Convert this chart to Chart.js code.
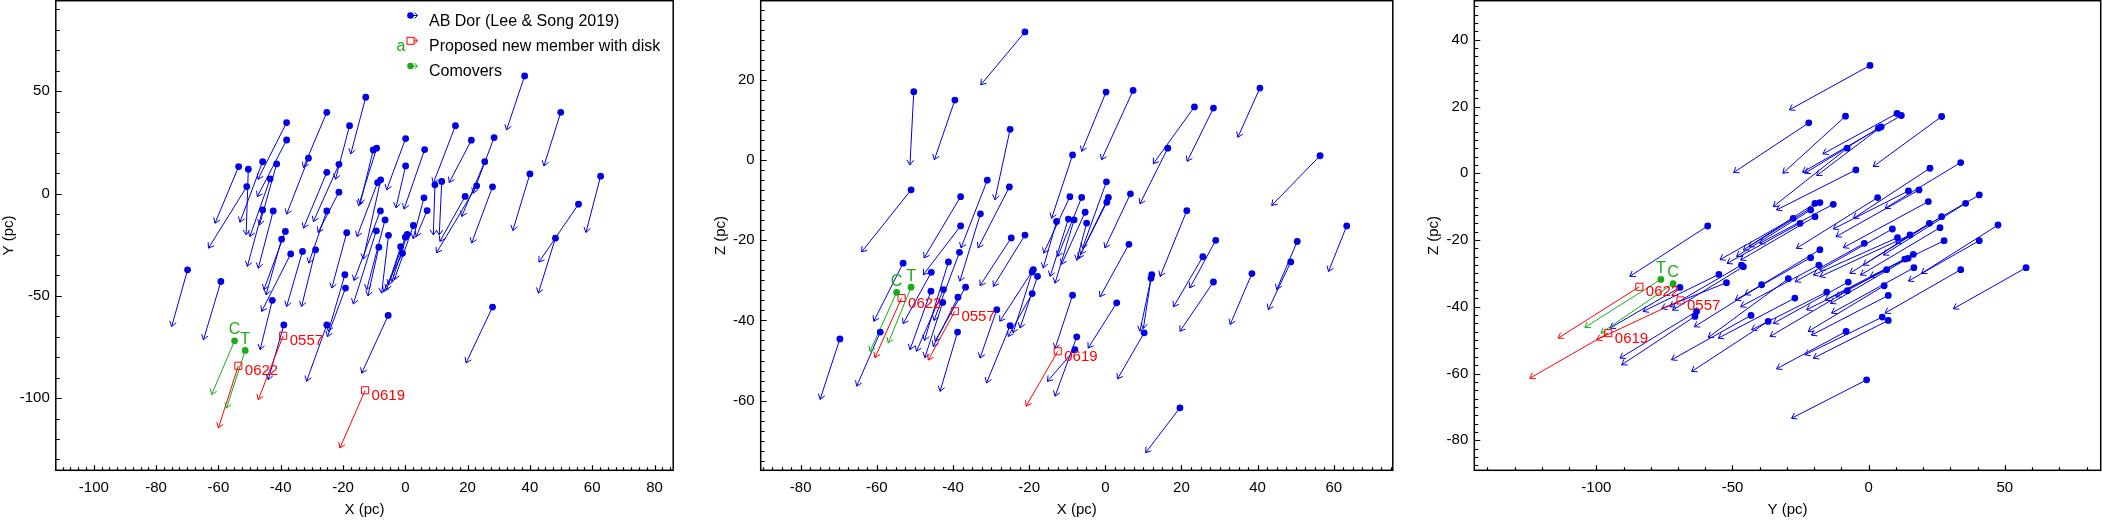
<!DOCTYPE html>
<html>
<head>
<meta charset="utf-8">
<script src="https://cdn.jsdelivr.net/npm/chart.js@4.4.1/dist/chart.umd.min.js"></script>
<style>
html,body{margin:0;padding:0;background:#fff;}
body{width:2102px;height:520px;position:relative;overflow:hidden;}
canvas{position:absolute;top:0;}
</style>
</head>
<body>
<canvas id="pXY" width="680" height="520" style="left:0px"></canvas>
<canvas id="pXZ" width="688" height="520" style="left:712px"></canvas>
<canvas id="pYZ" width="677" height="520" style="left:1425px"></canvas>
<script>
// ---- AB Dor members: start position and end of motion arrow, per projection ----
const memXY0 = [[-12.7,47.1],[-25.2,39.7],[-31.1,17.3],[-38.1,34.7],[-38.1,26.2],[-53.5,13.2],[-50.4,11.9],[-50.9,3.4],[-45.8,15.6],[-41.3,14.5],
  [-43.4,7.2],[-45.8,-8.0],[-42.4,-8.5],[-38.5,-18.5],[-39.7,-22.3],[-36.8,-29.5],[-42.7,-52.2],[-33.0,-28.3],[-28.8,-27.5],[-25.2,10.4],
  [-21.3,14.3],[-21.3,0.7],[-25.2,-8.5],[-18.8,-19.1],[-19.4,-39.7],[-19.2,-46.2],[-25.2,-64.2],[-5.5,-59.6],[-69.9,-37.3],[-59.2,-43.0],
  [-39.0,-64.2],[-9.2,22.2],[-10.3,21.3],[0.1,26.9],[0.1,13.5],[-8.9,5.4],[-7.9,6.7],[-8.0,-8.5],[-6.5,-12.9],[-9.3,-18.2],
  [-5.4,-20.4],[-8.5,-26.2],[0.0,-21.3],[0.6,-20.0],[-0.9,-29.2],[2.6,-15.6],[-1.5,-26.0],[6.0,-2.1],[7.0,-8.3],[6.2,21.5],
  [-17.9,33.2],[38.3,57.5],[49.9,39.7],[40.0,9.6],[62.7,8.5],[55.6,-5.2],[48.2,-21.8],[28.0,-55.5],[16.1,33.2],[21.2,26.1],
  [28.5,27.4],[25.5,15.6],[22.9,3.8],[28.0,3.3],[19.2,-1.4],[9.5,4.3],[11.7,5.9]];
const memXY1 = [[-17.5,19.4],[-32.7,12.7],[-38.1,-10.1],[-47.3,7.0],[-47.5,-1.5],[-61.1,-14.5],[-51.1,-20.2],[-63.2,-26.7],[-53.1,-14.0],[-46.8,-15.3],
  [-49.9,-21.0],[-50.7,-35.6],[-47.2,-36.5],[-45.4,-47.0],[-44.7,-49.5],[-46.1,-57.6],[-46.6,-76.3],[-38.1,-55.2],[-33.3,-55.2],[-32.7,-16.9],
  [-29.5,-13.7],[-28.0,-19.0],[-31.0,-34.0],[-23.6,-46.2],[-24.7,-67.4],[-25.0,-70.0],[-31.7,-91.8],[-14.0,-87.8],[-75.0,-65.0],[-64.8,-71.5],
  [-44.0,-91.0],[-15.0,-6.0],[-14.5,-5.0],[-6.0,1.8],[-3.0,-7.0],[-15.5,-21.0],[-13.5,-32.0],[-16.5,-42.5],[-12.4,-47.0],[-16.7,-54.0],
  [-7.6,-48.7],[-12.0,-50.0],[-5.4,-44.6],[-4.3,-43.0],[-7.0,-48.0],[-3.5,-42.0],[-6.0,-47.0],[2.5,-22.0],[3.5,-21.0],[-0.4,-7.6],
  [-22.4,7.0],[32.5,31.1],[44.5,13.5],[34.5,-18.1],[58.0,-19.0],[42.9,-33.5],[42.7,-48.7],[19.5,-82.8],[9.0,5.1],[14.1,5.4],
  [21.8,0.2],[18.1,-11.2],[10.0,-29.0],[21.3,-24.2],[11.1,-23.4],[9.0,-20.2],[10.9,-20.2]];

const memXZ0 = [[-21.1,32.0],[-50.3,17.1],[-39.5,15.0],[-25.0,7.7],[-51.0,-7.4],[-31.0,-5.0],[-25.2,-6.7],[-8.6,1.3],[-38.0,-9.1],[-38.0,-16.4],
  [-32.8,-13.4],[-24.7,-19.4],[-21.1,-18.7],[-53.1,-25.7],[-45.7,-28.0],[-41.2,-25.4],[-38.3,-23.0],[-45.8,-32.7],[-42.5,-32.3],[-42.7,-35.5],
  [-38.7,-34.2],[-36.7,-31.7],[-69.7,-44.6],[-59.1,-42.9],[-38.8,-42.9],[-28.5,-37.3],[-18.9,-27.3],[-19.2,-27.9],[-17.8,-29.0],[-19.2,-33.3],
  [-25.0,-41.3],[-8.6,-33.7],[-7.5,-44.1],[-8.0,-47.3],[-12.8,-15.3],[-9.7,-14.7],[-8.2,-14.9],[-9.3,-9.1],[-6.2,-9.3],[0.2,17.0],
  [7.3,17.4],[23.4,13.3],[28.4,13.0],[40.6,18.0],[16.4,3.0],[56.4,1.1],[0.3,-5.4],[-5.3,-13.0],[-4.9,-15.7],[0.8,-9.3],
  [0.4,-10.5],[6.6,-8.4],[21.4,-12.6],[6.2,-21.0],[3.0,-35.6],[12.2,-28.6],[12.0,-29.5],[10.2,-43.1],[29.0,-20.0],[25.6,-24.1],
  [28.4,-30.4],[38.5,-28.3],[50.4,-20.3],[48.7,-25.4],[63.4,-16.4],[19.6,-61.8]];
const memXZ1 = [[-32.7,18.8],[-51.3,-1.2],[-44.9,0.1],[-29.0,-9.9],[-64.0,-22.9],[-37.9,-21.9],[-33.4,-21.9],[-14.1,-14.5],[-47.6,-24.4],[-47.8,-28.6],
  [-38.2,-30.2],[-32.9,-31.3],[-29.4,-31.5],[-60.8,-40.2],[-53.1,-40.8],[-47.5,-45.0],[-45.0,-40.0],[-51.3,-47.3],[-49.6,-47.7],[-47.4,-49.3],
  [-45.2,-46.5],[-44.7,-45.2],[-74.9,-59.7],[-65.3,-56.4],[-43.4,-57.7],[-32.9,-49.4],[-27.7,-40.2],[-24.2,-43.1],[-22.4,-41.9],[-25.5,-44.0],
  [-31.2,-55.6],[-13.2,-47.0],[-13.2,-58.9],[-15.2,-55.2],[-16.3,-26.9],[-14.5,-29.0],[-13.2,-30.7],[-16.2,-23.2],[-12.5,-24.0],[-6.2,2.2],
  [-1.0,0.1],[12.6,-0.9],[21.5,-0.3],[34.8,5.7],[9.1,-10.9],[43.7,-11.3],[-6.0,-22.0],[-11.5,-26.0],[-7.5,-25.0],[-6.5,-23.5],
  [-7.0,-24.5],[-0.1,-21.9],[14.4,-29.0],[-1.4,-34.1],[-4.5,-46.9],[9.1,-42.7],[10.0,-42.0],[3.2,-54.6],[22.2,-31.9],[17.9,-36.6],
  [19.6,-42.7],[32.8,-41.0],[45.0,-32.3],[42.8,-37.3],[58.6,-27.8],[10.6,-73.0]];

const memYZ0 = [[0.5,32.3],[-22.0,15.1],[-8.5,17.1],[10.4,17.9],[12.0,17.3],[3.6,13.5],[4.6,13.9],[-7.9,7.5],[26.8,17.0],[-4.7,1.0],
  [22.5,1.5],[33.8,3.2],[14.6,-5.3],[18.5,-5.0],[3.3,-7.3],[21.9,-8.5],[40.6,-6.5],[35.6,-9.0],[26.8,-13.0],[22.3,-15.0],
  [26.2,-16.3],[27.7,-20.2],[40.6,-20.2],[47.5,-15.5],[57.8,-28.3],[33.8,-28.9],[8.7,-16.7],[-1.6,-21.0],[10.6,-19.3],[15.2,-18.5],
  [16.4,-24.3],[13.3,-25.7],[14.5,-25.5],[6.6,-28.9],[16.6,-28.3],[5.7,-33.7],[7.2,-36.6],[5.0,-43.1],[7.2,-44.1],[-8.3,-47.4],
  [-0.75,-61.9],[-7.5,-32.6],[-7.8,-35.2],[-15.4,-35.6],[-17.9,-22.9],[-21.3,-25.3],[-18.3,-27.5],[-29.5,-31.6],[-27.1,-37.4],[-21.3,-11.0],
  [-19.7,-9.0],[-17.9,-8.8],[-27.7,-13.5],[-25.2,-15.0],[-19.7,-13.0],[-13.0,-9.3],[-59.1,-15.8],[-69.3,-34.2],[-55.0,-30.3],[-52.2,-32.8],
  [-46.7,-27.5],[-46.0,-28.0],[-63.2,-41.4],[-63.8,-42.9],[-43.2,-42.6],[-36.9,-44.4],[-39.3,-33.4]];
const memYZ1 = [[-29.1,19.0],[-49.6,0.2],[-31.5,0.0],[-16.8,5.8],[-24.3,0.3],[-23.4,0.0],[-19.1,-0.7],[-35.0,-10.0],[1.7,2.0],[-33.8,-11.0],
  [-5.6,-13.5],[6.0,-10.5],[-13.0,-16.7],[-12.0,-19.0],[-26.5,-22.5],[-9.3,-22.3],[10.0,-21.0],[5.4,-24.5],[-2.0,-27.5],[-6.9,-30.0],
  [-3.0,-30.5],[0.5,-31.0],[14.6,-32.3],[19.4,-30.0],[31.1,-40.6],[6.0,-41.9],[-18.0,-29.0],[-27.0,-32.5],[-20.3,-30.5],[-17.9,-31.0],
  [-12.0,-37.0],[-16.0,-38.0],[-14.0,-39.0],[-22.8,-40.9],[-13.6,-41.9],[-22.2,-47.4],[-21.0,-48.5],[-23.4,-54.4],[-20.3,-55.4],[-33.8,-58.6],
  [-28.3,-73.4],[-35.0,-45.0],[-36.2,-48.9],[-43.0,-46.9],[-45.4,-36.4],[-49.0,-38.0],[-47.0,-40.0],[-58.9,-49.2],[-55.2,-49.4],[-48.5,-24.9],
  [-46.0,-23.0],[-44.0,-22.0],[-54.6,-25.9],[-52.0,-27.0],[-47.0,-26.0],[-40.0,-21.0],[-87.7,-30.9],[-95.0,-46.4],[-82.8,-41.4],[-76.0,-40.5],
  [-73.0,-40.0],[-72.0,-41.0],[-91.3,-55.4],[-90.7,-57.4],[-72.4,-55.9],[-65.0,-59.4],[-64.0,-46.0]];

// ---- proposed new members with disk ----
const diskNames = ['0557', '0622', '0619'];
const diskXY0 = [[-39.2,-69.5],[-53.6,-84.2],[-12.9,-96.2]];
const diskXY1 = [[-47.2,-100.8],[-60.0,-114.6],[-21.0,-124.4]];
const diskXZ0 = [[-39.5,-37.7],[-53.5,-34.4],[-12.5,-47.7]];
const diskXZ1 = [[-46.5,-49.9],[-60.5,-49.3],[-20.8,-61.4]];
const diskYZ0 = [[-69.1,-38.1],[-84.2,-34.0],[-95.6,-47.9]];
const diskYZ1 = [[-99.9,-49.9],[-114.0,-49.4],[-124.4,-61.4]];

// ---- comovers ----
const comNames = ['C', 'T'];
const comXY0 = [[-54.8,-72.0],[-51.4,-76.7]];
const comXY1 = [[-62.2,-98.3],[-57.4,-104.9]];
const comXZ0 = [[-54.8,-33.0],[-51.0,-31.7]];
const comXZ1 = [[-61.8,-47.7],[-57.0,-45.6]];
const comYZ0 = [[-71.8,-33.1],[-76.3,-31.8]];
const comYZ1 = [[-98.3,-47.9],[-104.2,-46.2]];

// ---- axes ----
const xyXTicks = [-100,-80,-60,-40,-20,0,20,40,60,80];
const xyYTicks = [-100,-50,0,50];
const xzXTicks = [-80,-60,-40,-20,0,20,40,60];
const xzZTicks = [-60,-40,-20,0,20];
const yzYTicks = [-100,-50,0,50];
const yzZTicks = [-80,-60,-40,-20,0,20,40];

const legendLabels = ['AB Dor (Lee & Song 2019)', 'Proposed new member with disk', 'Comovers'];

const BLUE = '#0000e6', RED = '#ff0000', GREEN = '#1aaa1a';
const FONT = "'Liberation Sans', Arial, Helvetica, sans-serif";
Chart.defaults.font.family = FONT;
Chart.defaults.color = '#000';

const pts = a => a.map(p => ({x: p[0], y: p[1]}));
const shafts = (a0, a1) => {
  const out = [];
  a0.forEach((p, i) => out.push({x: p[0], y: p[1]}, {x: a1[i][0], y: a1[i][1]}, {x: null, y: null}));
  return out;
};
const noPad = s => { s.paddingTop = 0; s.paddingBottom = 0; s.paddingLeft = 0; s.paddingRight = 0; };

// open V heads at arrow ends
const arrowHeads = {
  id: 'arrowHeads',
  afterDatasetDraw(chart, args) {
    const ds = chart.data.datasets[args.index];
    if (!ds.heads) return;
    const {ctx, scales: {x, y}} = chart;
    ctx.save();
    ctx.strokeStyle = ds.borderColor;
    ctx.lineWidth = 1;
    for (let i = 0; i + 1 < ds.data.length; i += 3) {
      const a = ds.data[i], b = ds.data[i + 1];
      const ax = x.getPixelForValue(a.x), ay = y.getPixelForValue(a.y);
      const bx = x.getPixelForValue(b.x), by = y.getPixelForValue(b.y);
      const ang = Math.atan2(by - ay, bx - ax), L = 6, w = 0.6;
      ctx.beginPath();
      ctx.moveTo(bx - L * Math.cos(ang - w), by - L * Math.sin(ang - w));
      ctx.lineTo(bx, by);
      ctx.lineTo(bx - L * Math.cos(ang + w), by - L * Math.sin(ang + w));
      ctx.stroke();
    }
    ctx.restore();
  }
};

// box frame and inward minor/major ticks
const frameTicks = {
  id: 'frameTicks',
  afterDraw(chart, args, o) {
    const {ctx, chartArea: a, scales: {x, y}} = chart;
    ctx.save();
    ctx.strokeStyle = '#000';
    ctx.lineWidth = 1.2;
    ctx.beginPath();
    for (let k = Math.ceil(x.min / o.xStep); k * o.xStep <= x.max; k++) {
      const v = k * o.xStep, px = Math.round(x.getPixelForValue(v)) + 0.5;
      const major = o.xTicks.some(t => Math.abs(t - v) < 1e-6);
      ctx.moveTo(px, a.bottom); ctx.lineTo(px, a.bottom - (major ? 5 : 3));
    }
    for (let k = Math.ceil(y.min / o.yStep); k * o.yStep <= y.max; k++) {
      const v = k * o.yStep, py = Math.round(y.getPixelForValue(v)) + 0.5;
      const major = o.yTicks.some(t => Math.abs(t - v) < 1e-6);
      ctx.moveTo(a.left, py); ctx.lineTo(a.left + (major ? 6 : 4), py);
    }
    ctx.stroke();
    ctx.lineWidth = 1.5;
    ctx.strokeRect(a.left, a.top, a.right - a.left, a.bottom - a.top);
    ctx.restore();
  }
};

// text next to highlighted stars
const ptLabels = {
  id: 'ptLabels',
  afterDatasetsDraw(chart, args, o) {
    const {ctx, scales: {x, y}} = chart;
    ctx.save();
    ctx.textBaseline = 'middle';
    (o.items || []).forEach(it => {
      ctx.font = it.size + 'px ' + FONT;
      ctx.fillStyle = it.color;
      ctx.textAlign = it.align;
      ctx.fillText(it.text, x.getPixelForValue(it.x) + it.dx, y.getPixelForValue(it.y) + it.dy);
    });
    ctx.restore();
  }
};

// legend drawn in the first panel
const legendBox = {
  id: 'legendBox',
  afterDraw(chart, args, o) {
    if (!o.show) return;
    const ctx = chart.ctx;
    const kinds = ['dot', 'square', 'dot'], cols = [BLUE, RED, GREEN];
    ctx.save();
    legendLabels.forEach((t, i) => {
      const mx = 410.5, my = 15.5 + i * 25.3;
      ctx.strokeStyle = cols[i]; ctx.fillStyle = cols[i]; ctx.lineWidth = 1;
      ctx.beginPath(); ctx.moveTo(mx, my); ctx.lineTo(mx + 7, my);
      ctx.moveTo(mx + 4, my - 3); ctx.lineTo(mx + 7, my); ctx.lineTo(mx + 4, my + 3);
      ctx.stroke();
      if (kinds[i] === 'dot') {
        ctx.beginPath(); ctx.arc(mx, my, 3.3, 0, Math.PI * 2); ctx.fill();
      } else {
        ctx.fillStyle = '#fff'; ctx.fillRect(mx - 3.5, my - 3.5, 7, 7);
        ctx.strokeRect(mx - 3.5, my - 3.5, 7, 7);
      }
      ctx.fillStyle = '#000';
      ctx.font = '16px ' + FONT; ctx.textAlign = 'left'; ctx.textBaseline = 'middle';
      ctx.fillText(t, 429, 22 + i * 25);
    });
    ctx.fillStyle = GREEN; ctx.textAlign = 'center';
    ctx.fillText('a', 401, 47);
    ctx.restore();
  }
};

function makePanel(id, p) {
  const items = [];
  p.disk0.forEach((q, i) => items.push({x: q[0], y: q[1], text: diskNames[i], color: RED, align: 'left', dx: 6.5, dy: 5.5, size: 15}));
  p.com0.forEach((q, i) => items.push({x: q[0], y: q[1], text: comNames[i], color: GREEN, align: 'center', dx: 0, dy: -11, size: 16}));
  const tickFont = {size: 15, family: FONT};
  new Chart(document.getElementById(id), {
    type: 'scatter',
    data: {
      datasets: [
        {data: pts(p.com0), backgroundColor: GREEN, borderColor: GREEN, pointRadius: 3.4, borderWidth: 0},
        {data: pts(p.disk0), pointStyle: 'rect', backgroundColor: 'rgba(0,0,0,0)', borderColor: RED, pointRadius: 5, borderWidth: 1},
        {data: pts(p.mem0), backgroundColor: BLUE, borderColor: BLUE, pointRadius: 3.4, borderWidth: 0},
        {data: shafts(p.com0, p.com1), showLine: true, heads: true, borderColor: GREEN, borderWidth: 1, pointRadius: 0, spanGaps: false},
        {data: shafts(p.disk0, p.disk1), showLine: true, heads: true, borderColor: RED, borderWidth: 1, pointRadius: 0, spanGaps: false},
        {data: shafts(p.mem0, p.mem1), showLine: true, heads: true, borderColor: BLUE, borderWidth: 1, pointRadius: 0, spanGaps: false}
      ]
    },
    options: {
      responsive: false, animation: false, devicePixelRatio: 1, events: [],
      layout: {autoPadding: false, padding: {left: 0, right: p.padR, top: 0.7, bottom: 0}},
      plugins: {
        legend: {display: false}, tooltip: {enabled: false},
        frameTicks: {xStep: p.xStep, yStep: p.yStep, xTicks: p.xTicks, yTicks: p.yTicks},
        ptLabels: {items},
        legendBox: {show: !!p.legend}
      },
      scales: {
        x: {
          type: 'linear', min: p.xr[0], max: p.xr[1],
          grid: {display: false, drawTicks: false}, border: {display: false},
          afterBuildTicks: s => { s.ticks = p.xTicks.map(v => ({value: v})); },
          afterFit: s => { s.height = 49.7; noPad(s); },
          ticks: {font: tickFont, color: '#000', padding: 8.5, maxRotation: 0, autoSkip: false, callback: v => String(v)},
          title: {display: true, text: p.xTitle, font: tickFont, color: '#000', padding: {top: 0, bottom: 1.6}}
        },
        y: {
          type: 'linear', min: p.yr[0], max: p.yr[1],
          grid: {display: false, drawTicks: false}, border: {display: false},
          afterBuildTicks: s => { s.ticks = p.yTicks.map(v => ({value: v})); },
          afterFit: s => { s.width = p.yW; noPad(s); },
          ticks: {font: tickFont, color: '#000', padding: 6, autoSkip: false, callback: v => String(v)},
          title: {display: true, text: p.yTitle, font: tickFont, color: '#000', padding: {top: 0, bottom: 0}}
        }
      }
    },
    plugins: [arrowHeads, frameTicks, ptLabels, legendBox]
  });
}

makePanel('pXY', {mem0: memXY0, mem1: memXY1, disk0: diskXY0, disk1: diskXY1, com0: comXY0, com1: comXY1,
  xr: [-112.2, 86.0], yr: [-135.3, 94.3], xTicks: xyXTicks, yTicks: xyYTicks, xStep: 2.5, yStep: 10,
  xTitle: 'X (pc)', yTitle: 'Y (pc)', yW: 55.8, padR: 6.8, legend: true});
makePanel('pXZ', {mem0: memXZ0, mem1: memXZ1, disk0: diskXZ0, disk1: diskXZ1, com0: comXZ0, com1: comXZ1,
  xr: [-90.5, 75.5], yr: [-77.4, 39.8], xTicks: xzXTicks, yTicks: xzZTicks, xStep: 2.5, yStep: 2.5,
  xTitle: 'X (pc)', yTitle: 'Z (pc)', yW: 48.7, padR: 7.2});
makePanel('pYZ', {mem0: memYZ0, mem1: memYZ1, disk0: diskYZ0, disk1: diskYZ1, com0: comYZ0, com1: comYZ1,
  xr: [-144.8, 85.2], yr: [-89.0, 51.7], xTicks: yzYTicks, yTicks: yzZTicks, xStep: 10, yStep: 2.5,
  xTitle: 'Y (pc)', yTitle: 'Z (pc)', yW: 49.3, padR: 1.3});
</script>
</body>
</html>
